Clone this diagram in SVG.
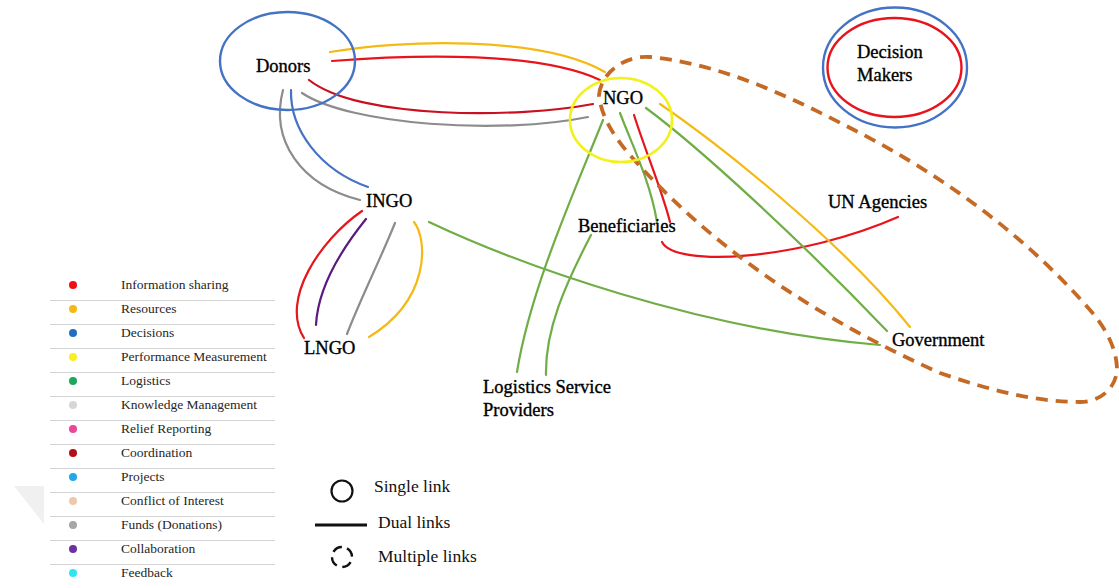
<svg xmlns="http://www.w3.org/2000/svg" width="1119" height="588" viewBox="0 0 1119 588">
<style>
.lbl{font-family:"Liberation Serif","Times New Roman",serif;font-size:18.5px;fill:#000;stroke:#000;stroke-width:0.35}
.lg{font-family:"Liberation Serif","Times New Roman",serif;font-size:13.5px;fill:#262626}
.lk{font-family:"Liberation Serif","Times New Roman",serif;font-size:17.5px;fill:#111}
.c{fill:none;stroke-width:2.2;stroke-linecap:round}
.or{stroke:#F5B914}.rd{stroke:#E8141B}.dr{stroke:#C8101E}.gy{stroke:#8C8C8C}.bl{stroke:#4472C4}.gn{stroke:#70AD47}.pu{stroke:#5A1A80}
.sep{stroke:#D4D4D4;stroke-width:1}
</style>
<rect width="1119" height="588" fill="#fff"/>
<polygon points="14,486 44,486 44,524" fill="#F0F0F0"/>

<g id="connectors">
  <path class="c or" d="M330,52 C400,40 540,35 605,72"/>
  <path class="c rd" d="M332,61 C420,54 540,52 600,80"/>
  <path class="c dr" d="M309,80 C360,120 520,118 593,104"/>
  <path class="c gy" d="M302,93 C350,125 500,135 588,117"/>
  <path class="c gy" d="M283,90 C270,140 300,185 360,200"/>
  <path class="c bl" d="M291,90 C290,130 320,170 368,187"/>
  <path class="c rd" d="M362,211 C320,240 280,300 304,338"/>
  <path class="c pu" d="M366,219 C345,245 318,285 316,325"/>
  <path class="c gy" d="M395,223 C380,260 360,300 347,334"/>
  <path class="c or" d="M414,222 C428,240 430,300 369,337"/>
  <path class="c gn" d="M429,222 C520,265 700,330 880,345"/>
  <path class="c gn" d="M603,120 C575,190 530,290 517,372"/>
  <path class="c gn" d="M591,235 C565,285 545,330 546,375"/>
  <path class="c gn" d="M620,113 C630,140 650,180 657,222"/>
  <path class="c rd" d="M634,115 C645,150 662,190 670,222"/>
  <path class="c rd" d="M662,242 C675,268 800,260 898,217"/>
  <path class="c gn" d="M646,108 C700,148 800,240 887,331"/>
  <path class="c or" d="M660,104 C720,145 840,240 910,327"/>
</g>

<g id="multiple-links">
  <path d="M599,95 C601.5,70 628,55 650,57 C725,64.5 793.5,98.4 860,133 C946,177.7 1026.4,236.8 1090,310 C1104.4,326.6 1116,346 1117,368 C1117,388 1100,402 1080,402 C1032,402 985.5,388.5 940,373 C869.8,341.4 801.3,303.6 740,257 C703.4,229.2 668,197 637,163 C619.5,143.8 601.6,121 599,95 Z" fill="none" stroke="#C46A24" stroke-width="3.8" stroke-dasharray="12,8"/>
</g>

<g id="node-donors">
  <ellipse cx="287.5" cy="61" rx="67.5" ry="49" fill="none" stroke="#4472C4" stroke-width="2.4"/>
  <text class="lbl" x="256" y="72">Donors</text>
</g>
<g id="node-ngo">
  <ellipse cx="621" cy="120" rx="51" ry="42" fill="none" stroke="#F2F21A" stroke-width="2.6"/>
  <text class="lbl" x="603" y="104">NGO</text>
</g>
<g id="node-decision-makers">
  <ellipse cx="895" cy="67.5" rx="72" ry="60" fill="none" stroke="#4472C4" stroke-width="2.4"/>
  <ellipse cx="894.5" cy="67.5" rx="67" ry="49.5" fill="none" stroke="#E8141B" stroke-width="2.4"/>
  <text class="lbl" x="857" y="58">Decision</text>
  <text class="lbl" x="857" y="81">Makers</text>
</g>
<g id="node-ingo"><text class="lbl" x="366" y="207">INGO</text></g>
<g id="node-lngo"><text class="lbl" x="304" y="354">LNGO</text></g>
<g id="node-beneficiaries"><text class="lbl" x="578" y="232">Beneficiaries</text></g>
<g id="node-un"><text class="lbl" x="828" y="208">UN Agencies</text></g>
<g id="node-government"><text class="lbl" x="892" y="346">Government</text></g>
<g id="node-lsp">
  <text class="lbl" x="483" y="393">Logistics  Service</text>
  <text class="lbl" x="483" y="416">Providers</text>
</g>

<g id="legend-colours">
  <g class="sep">
    <line x1="50" y1="300.5" x2="275" y2="300.5"/><line x1="50" y1="324.5" x2="275" y2="324.5"/>
    <line x1="50" y1="348.5" x2="275" y2="348.5"/><line x1="50" y1="372.5" x2="275" y2="372.5"/>
    <line x1="50" y1="396.5" x2="275" y2="396.5"/><line x1="50" y1="420.5" x2="275" y2="420.5"/>
    <line x1="50" y1="444.5" x2="275" y2="444.5"/><line x1="50" y1="468.5" x2="275" y2="468.5"/>
    <line x1="50" y1="492.5" x2="275" y2="492.5"/><line x1="50" y1="516.5" x2="275" y2="516.5"/>
    <line x1="50" y1="540.5" x2="275" y2="540.5"/><line x1="50" y1="564.5" x2="275" y2="564.5"/>
  </g>
  <circle cx="73" cy="285" r="4" fill="#F01010"/><text class="lg" x="121" y="289">Information sharing</text>
  <circle cx="73" cy="309" r="4" fill="#F5B914"/><text class="lg" x="121" y="313">Resources</text>
  <circle cx="73" cy="333" r="4" fill="#1F6FC0"/><text class="lg" x="121" y="337">Decisions</text>
  <circle cx="73" cy="357" r="4" fill="#F8F020"/><text class="lg" x="121" y="361">Performance Measurement</text>
  <circle cx="73" cy="381" r="4" fill="#1BA85A"/><text class="lg" x="121" y="385">Logistics</text>
  <circle cx="73" cy="405" r="4" fill="#D6D6D6"/><text class="lg" x="121" y="409">Knowledge Management</text>
  <circle cx="73" cy="429" r="4" fill="#E8479A"/><text class="lg" x="121" y="433">Relief Reporting</text>
  <circle cx="73" cy="453" r="4" fill="#B30F14"/><text class="lg" x="121" y="457">Coordination</text>
  <circle cx="73" cy="477" r="4" fill="#22A8E8"/><text class="lg" x="121" y="481">Projects</text>
  <circle cx="73" cy="501" r="4" fill="#F0C6AC"/><text class="lg" x="121" y="505">Conflict of Interest</text>
  <circle cx="73" cy="525" r="4" fill="#A6A6A6"/><text class="lg" x="121" y="529">Funds (Donations)</text>
  <circle cx="73" cy="549" r="4" fill="#7030A0"/><text class="lg" x="121" y="553">Collaboration</text>
  <circle cx="73" cy="573" r="4" fill="#2EE6F0"/><text class="lg" x="121" y="577">Feedback</text>
</g>

<g id="legend-links">
  <circle cx="342" cy="491" r="10.5" fill="none" stroke="#111" stroke-width="2.2"/>
  <text class="lk" x="374" y="492">Single link</text>
  <line x1="315" y1="525" x2="367" y2="525" stroke="#111" stroke-width="2.8"/>
  <text class="lk" x="378" y="528">Dual links</text>
  <circle cx="342" cy="557" r="10" fill="none" stroke="#111" stroke-width="2.4" stroke-dasharray="10,5.7" transform="rotate(-60 342 557)"/>
  <text class="lk" x="378" y="562">Multiple links</text>
</g>
</svg>
